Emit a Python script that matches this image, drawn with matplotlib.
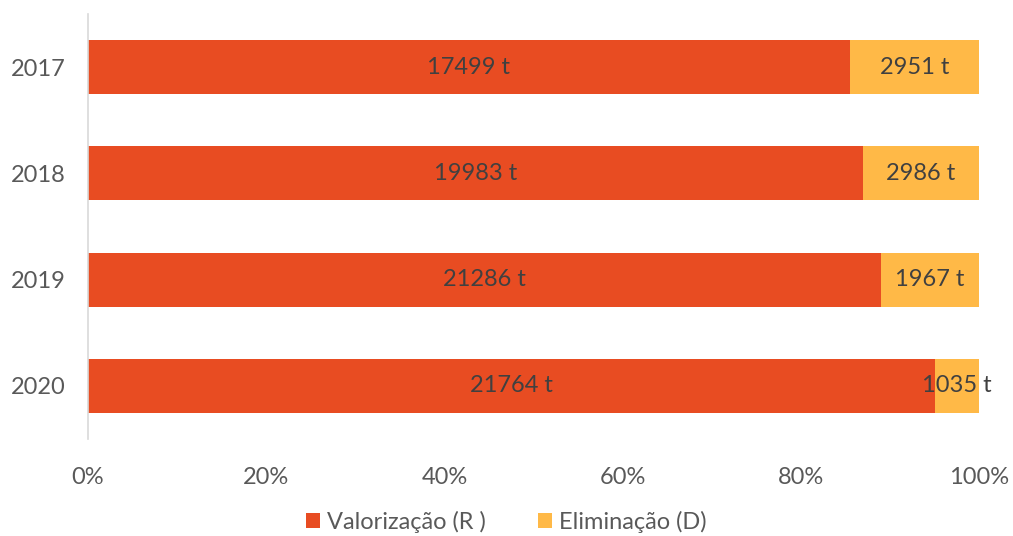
import matplotlib
matplotlib.use("Agg")
import matplotlib.pyplot as plt
from matplotlib.ticker import FuncFormatter

years = ["2017", "2018", "2019", "2020"]
valorizacao = [17499, 19983, 21286, 21764]          # tonnes (labels)
eliminacao = [2951, 2986, 1967, 1035]               # tonnes (labels)
share_valorizacao = [0.855, 0.870, 0.890, 0.951]    # share
share_eliminacao = [0.145, 0.130, 0.110, 0.049]
series_names = ["Valorização (R )", "Eliminação (D)"]
colors = ["#E84C22", "#FFB947"]
text_color = "#404040"

plt.rcParams['font.family'] = ['Lato', 'DejaVu Sans']

fig = plt.figure(figsize=(10.13, 5.36), dpi=100)
ax = fig.add_axes([88/1013, 1-439/536, (979-88)/1013, (439-14)/536])

ypos = list(range(len(years)))
pv = share_valorizacao
pe = share_eliminacao

b1 = ax.barh(ypos, pv, height=0.51, color=colors[0], label=series_names[0])
b2 = ax.barh(ypos, pe, left=pv, height=0.51, color=colors[1], label=series_names[1])

for i in ypos:
    ax.text(pv[i] / 2, i, f"{valorizacao[i]} t", ha="center", va="center",
            fontsize=17, color=text_color)
    ax.text(pv[i] + pe[i] / 2, i, f"{eliminacao[i]} t", ha="center", va="center",
            fontsize=17, color=text_color)

ax.set_ylim(len(years) - 0.5, -0.5)
ax.set_xlim(0, 1)
ax.set_yticks(ypos)
ax.set_yticklabels(years)
ax.set_xticks([0, 0.2, 0.4, 0.6, 0.8, 1.0])
ax.xaxis.set_major_formatter(FuncFormatter(lambda v, p: f"{round(v*100)}%"))
ax.tick_params(axis="both", length=0, labelsize=17, labelcolor="#595959")
ax.tick_params(axis="x", pad=20)
ax.tick_params(axis="y", pad=16)
for s in ["top", "right", "bottom"]:
    ax.spines[s].set_visible(False)
ax.spines["left"].set_color("#D9D9D9")
ax.spines["left"].set_linewidth(1.2)

leg = fig.legend(handles=[b1, b2], labels=series_names, loc="center",
                 bbox_to_anchor=(0.5, 1 - 522/536), ncol=2, frameon=False,
                 fontsize=17, handlelength=0.6, handleheight=0.6,
                 handletextpad=0.3, columnspacing=2.2)
for t in leg.get_texts():
    t.set_color("#595959")

fig.savefig("out.png", dpi=100)
